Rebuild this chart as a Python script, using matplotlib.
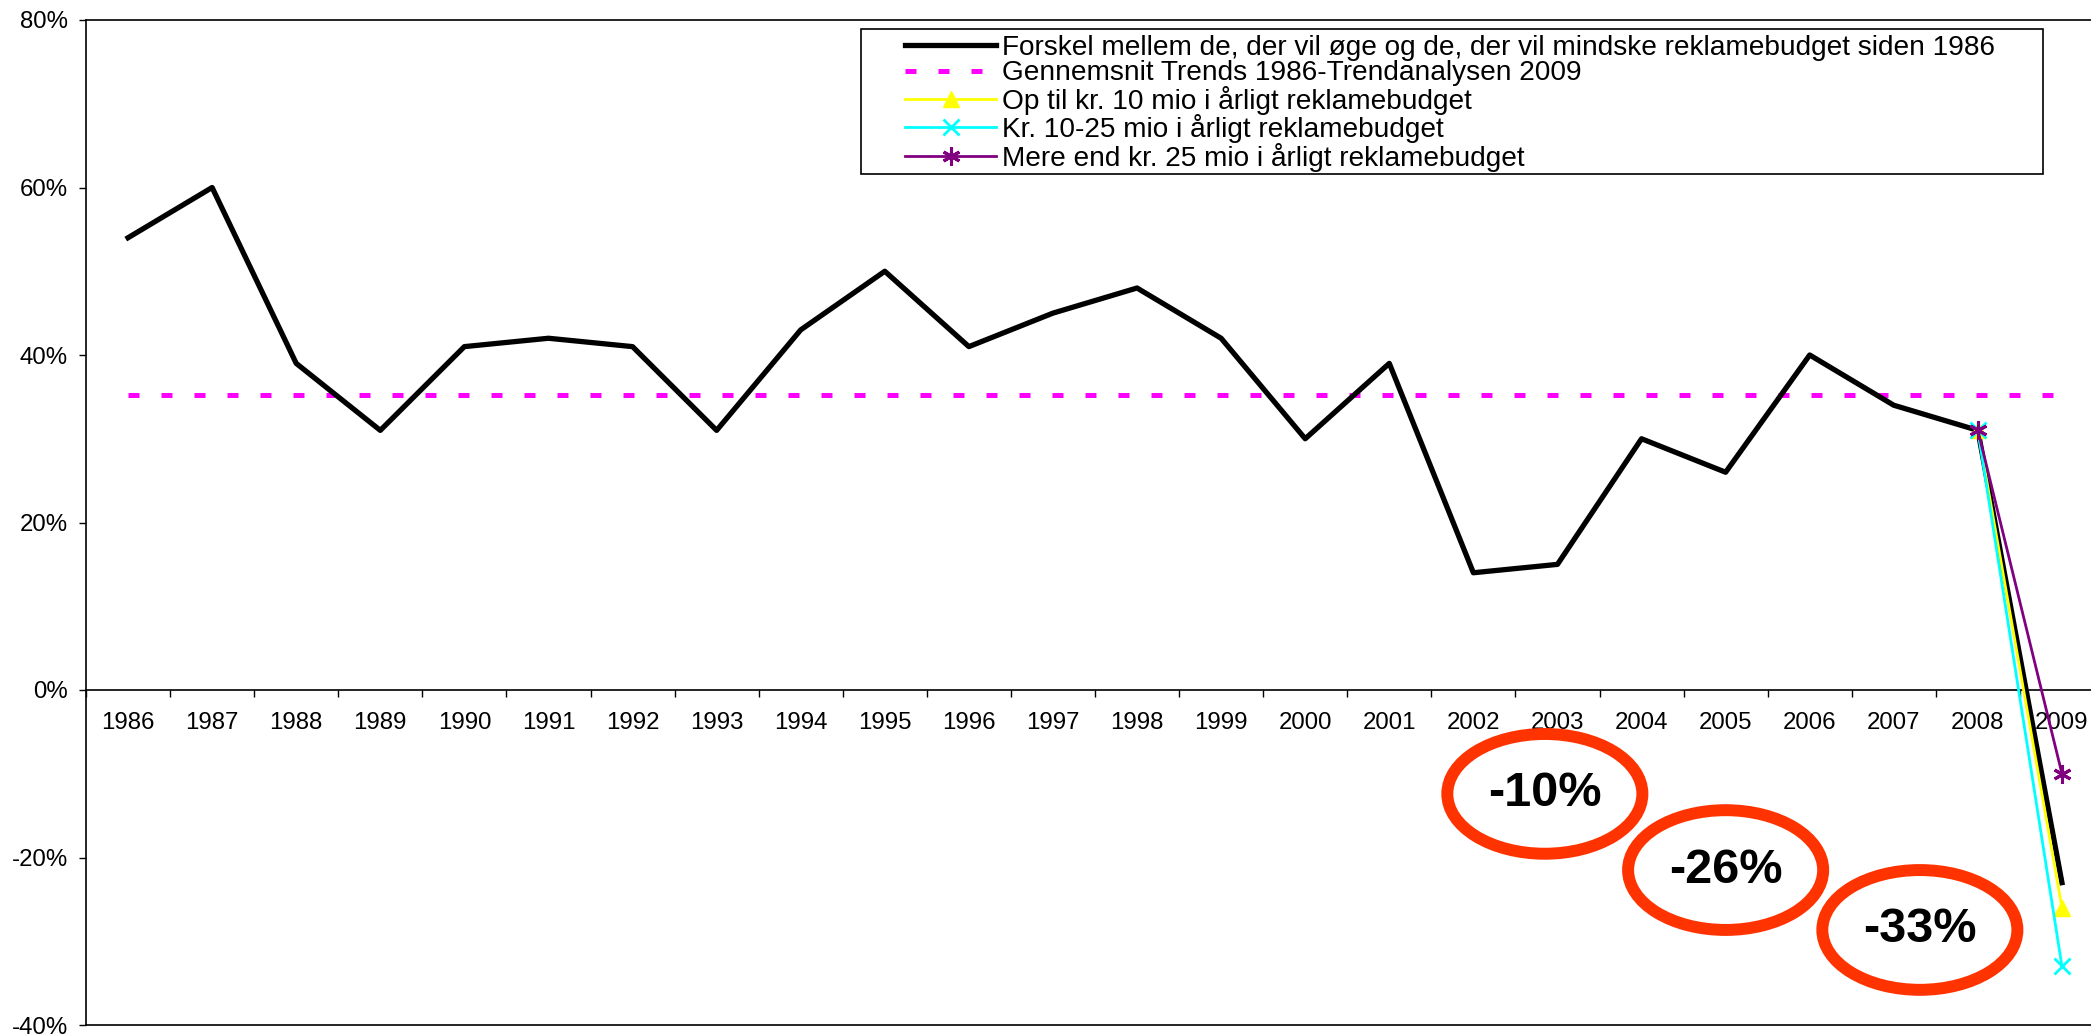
import numpy as np
import matplotlib.pyplot as plt
from matplotlib.patches import Ellipse, Rectangle

plt.rcParams['font.family'] = ['Liberation Sans', 'DejaVu Sans']

years = ['1986', '1987', '1988', '1989', '1990', '1991', '1992', '1993', '1994', '1995', '1996', '1997',
         '1998', '1999', '2000', '2001', '2002', '2003', '2004', '2005', '2006', '2007', '2008', '2009']
# difference between those who will raise and those who will cut the ad budget (%)
forskel = [54, 60, 39, 31, 41, 42, 41, 31, 43, 50, 41, 45,
           48, 42, 30, 39, 14, 15, 30, 26, 40, 34, 31, -23]
gennemsnit = 35.2  # average 1986-2009
# budget groups, only measured 2008-2009
op_til_10 = [31, -26]
kr_10_25 = [31, -33]
over_25 = [31, -10]
callouts = ['-10%', '-26%', '-33%']

labels = ['Forskel mellem de, der vil øge og de, der vil mindske reklamebudget siden 1986',
          'Gennemsnit Trends 1986-Trendanalysen 2009',
          'Op til kr. 10 mio i årligt reklamebudget',
          'Kr. 10-25 mio i årligt reklamebudget',
          'Mere end kr. 25 mio i årligt reklamebudget']

W, H = 2091, 1034
fig = plt.figure(figsize=(W / 100, H / 100), dpi=100)
# plot area runs slightly past the right edge of the image, like the original
ax = fig.add_axes([86 / W, 9 / H, 2018 / W, 1005 / H])

x = np.arange(len(years))
x_last = x[-2:]

ax.plot(x, forskel, color='black', lw=3.8, label=labels[0], zorder=3)
ax.plot(x, [gennemsnit] * len(x), color='#ff00ff', lw=3.6, dashes=(2.2, 4.4),
        dash_capstyle='butt', label=labels[1], zorder=2)
ax.plot(x_last, op_til_10, color='yellow', lw=2, marker='^', ms=12, label=labels[2], zorder=4)
ax.plot(x_last, kr_10_25, color='cyan', lw=2, marker='x', ms=11, mew=2, label=labels[3], zorder=4)
ax.plot(x_last, over_25, color='purple', lw=2, marker=(6, 2, 0), ms=13, mew=2.2,
        label=labels[4], zorder=5)

ax.set_xlim(-0.5, len(years) - 0.5)
ax.set_ylim(-40, 80)
ax.set_yticks(np.arange(-40, 81, 20))
ax.set_yticklabels([f'{v}%' for v in range(-40, 81, 20)])
ax.tick_params(axis='y', direction='out', length=5, width=1, pad=8, labelsize=17.3)
ax.set_xticks([])
ax.spines['right'].set_visible(False)
for s in ['left', 'top', 'bottom']:
    ax.spines[s].set_linewidth(1.2)

# category axis sits at 0%
cat = ax.secondary_xaxis(40 / 120)
cat.set_xticks(np.arange(-0.5, len(years), 1))
cat.set_xticklabels([])
cat.set_xticks(x, minor=True)
cat.set_xticklabels(years, minor=True)
cat.tick_params(axis='x', which='major', direction='out', length=5, width=1)
cat.tick_params(axis='x', which='minor', length=0, pad=15.5, labelsize=17.3)
cat.spines['bottom'].set_linewidth(1.2)

# red rings with the 2009 figures per budget group
ring_pos = [(16.85, -12.4), (19.0, -21.5), (21.31, -28.65)]
for (cx, cy), txt in zip(ring_pos, callouts):
    ax.add_patch(Ellipse((cx, cy), 2.32, 14.3, facecolor='white', edgecolor='#ff3300',
                         lw=8.6, zorder=6, clip_on=False))
    ax.text(cx, cy, txt, ha='center', va='center', fontsize=35, fontweight='bold', zorder=7)

leg = ax.legend(loc='upper left', bbox_to_anchor=(905 / W, 1 - 35 / H), bbox_transform=fig.transFigure,
                frameon=False, fontsize=20.2, borderpad=0, handlelength=3.25, handletextpad=0.22,
                labelspacing=-0.02, borderaxespad=0)
fig.add_artist(Rectangle((861 / W, 1 - 174 / H), (2043 - 861) / W, (174 - 29) / H,
                         transform=fig.transFigure, fill=False, edgecolor='black', lw=1.2))

fig.savefig('out.png', dpi=100)
